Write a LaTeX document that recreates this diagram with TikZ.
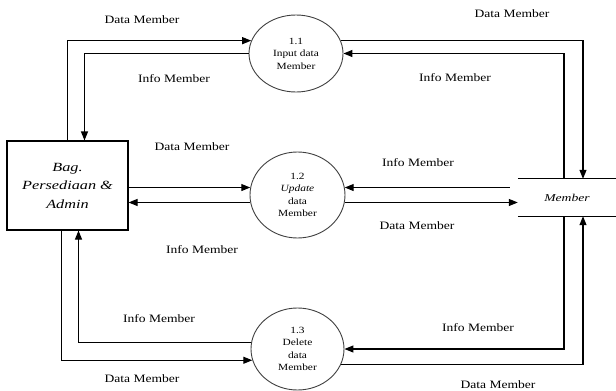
\documentclass[tikz,border=0pt]{standalone}
\usepackage{fontspec}
\setmainfont{Liberation Serif}
\newfontfamily\lblfont[FakeStretch=1.2]{Liberation Serif}
\newfontfamily\entfont[FakeStretch=1.3]{Liberation Serif}
\usetikzlibrary{arrows.meta, shapes.geometric}

\begin{document}
\begin{tikzpicture}[x=1pt, y=-1pt,
    entity/.style={rectangle, draw=black, line width=1.1pt,
        minimum width=121pt, minimum height=89pt, align=center,
        font=\entfont\itshape\fontsize{12.5}{18.5}\selectfont},
    process/.style={ellipse, draw=black!75, line width=0.9pt, inner sep=0pt,
        align=center, font=\lblfont\fontsize{9.5}{12.5}\selectfont},
    store/.style={rectangle, minimum width=98pt, minimum height=37pt,
        font=\entfont\itshape\fontsize{10.5}{12}\selectfont},
    storeline/.style={line width=1.1pt},
    flow/.style={line width=1.1pt, -{Triangle[length=9pt, width=7pt]}},
    lbl/.style={font=\lblfont\fontsize{11.3}{13}\selectfont}
]
    \useasboundingbox (0,0) rectangle (616,391);
    \node[entity] (admin) at (67.5,185.5) {Bag.\\Persediaan \&\\Admin};
    \node[process, minimum width=94pt, minimum height=77pt] (p1) at (296,53.5) {1.1\\Input data\\Member};
    \node[process, minimum width=95pt, minimum height=86pt] (p2) at (297.5,195) {1.2\\\textit{Update}\\data\\Member};
    \node[process, minimum width=93pt, minimum height=82pt] (p3) at (297.5,349) {1.3\\Delete\\data\\Member};
    \node[store] (member) at (567,197.5) {Member};
    \draw[storeline] (member.north west) -- (member.north east);
    \draw[storeline] (member.south west) -- (member.south east);
    \node[lbl] (dm1) at (142,20) {Data Member};
    \node[lbl] (im1) at (174,79) {Info Member};
    \node[lbl] (dm2) at (192,147) {Data Member};
    \node[lbl] (im2) at (202,250) {Info Member};
    \node[lbl] (im3) at (159,319) {Info Member};
    \node[lbl] (dm3) at (142,379) {Data Member};
    \node[lbl] (dm4) at (512,14) {Data Member};
    \node[lbl] (im4) at (455,78) {Info Member};
    \node[lbl] (im5) at (418,163) {Info Member};
    \node[lbl] (dm5) at (417,226) {Data Member};
    \node[lbl] (im6) at (478,328) {Info Member};
    \node[lbl] (dm6) at (498,385) {Data Member};
    \draw[flow] (admin.north) |- (p1.164);
    \draw[flow] (p1.west) -| ([xshift=17pt]admin.north);
    \draw[flow] (p1.16) -| ([xshift=16pt]member.north);
    \draw[flow] ([xshift=-3pt]member.north) |- (p1.east);
    \draw[flow] (admin.east |- p2.171) -- (p2.171);
    \draw[flow] (p2.189) -- (admin.east |- p2.189);
    \draw[flow] ([xshift=-8pt]member.west |- p2.9) -- (p2.9);
    \draw[flow] (p2.351) -- (member.west |- p2.351);
    \draw[flow] ([xshift=-6pt]admin.south) |- (p3.194);
    \draw[flow] (p3.172) -| ([xshift=11pt]admin.south);
    \draw[flow] ([xshift=-3pt]member.south) |- (p3.east);
    \draw[flow] (p3.341) -| ([xshift=16pt]member.south);
\end{tikzpicture}
\end{document}
